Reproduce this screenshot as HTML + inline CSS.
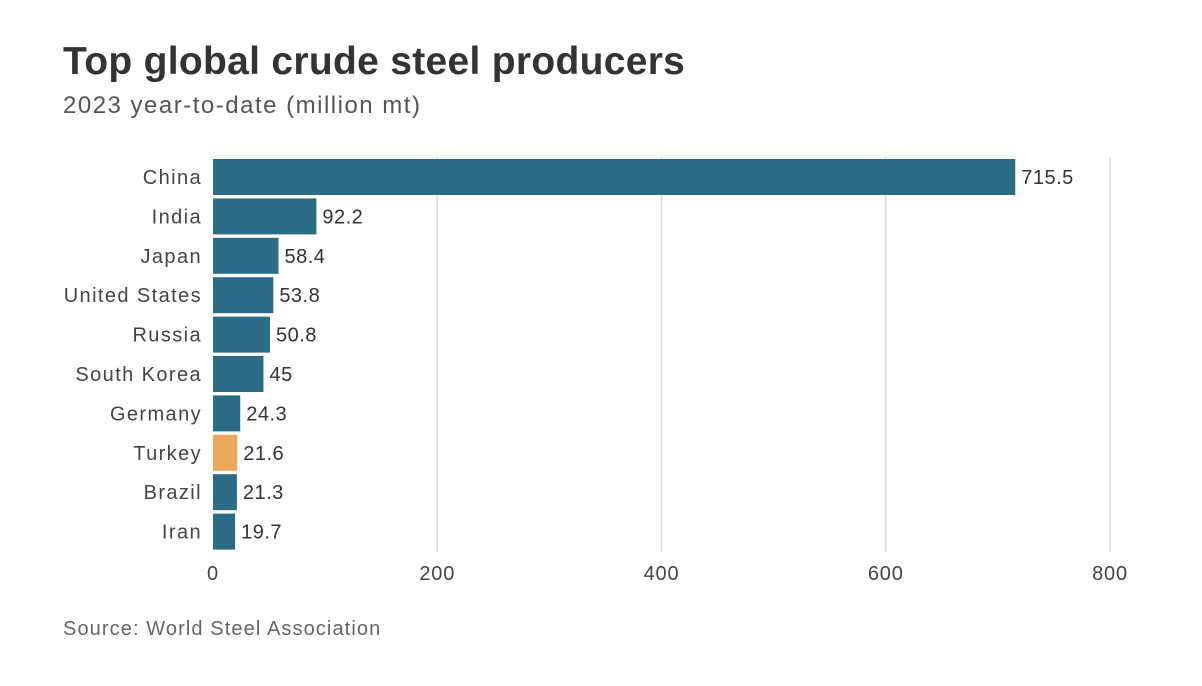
<!DOCTYPE html>
<html><head><meta charset="utf-8">
<style>
body{margin:0;background:#fff;width:1202px;height:686px;overflow:hidden;font-family:"Liberation Sans",sans-serif;}
svg{display:block}
</style></head>
<body>
<svg id="chart" width="1202" height="686" xmlns="http://www.w3.org/2000/svg">
<text x="63" y="74" font-size="39" font-weight="bold" letter-spacing="0.3" fill="#333">Top global crude steel producers</text>
<text x="63" y="113" font-size="24" letter-spacing="1.5" fill="#555">2023 year-to-date (million mt)</text>
<g id="grid"></g>
<g id="bars"></g>
<g id="xticks"></g>
<text x="63" y="635" font-size="20" letter-spacing="1.1" fill="#666">Source: World Steel Association</text>
</svg>
<script>
const categories=["China","India","Japan","United States","Russia","South Korea","Germany","Turkey","Brazil","Iran"];
const values=[715.5,92.2,58.4,53.8,50.8,45,24.3,21.6,21.3,19.7];
const valueLabels=["715.5","92.2","58.4","53.8","50.8","45","24.3","21.6","21.3","19.7"];
const highlighted=["Turkey"];
const ticks=[0,200,400,600,800];

const NS="http://www.w3.org/2000/svg";
const x0=213,x1=1110,xmax=800;
const xs=v=>x0+(v/xmax)*(x1-x0);
const top0=159,pitch=39.4,bh=36;
const ys=i=>top0+i*pitch;
function mk(tag,attrs){const e=document.createElementNS(NS,tag);for(const k in attrs)e.setAttribute(k,attrs[k]);return e;}
const grid=document.getElementById('grid'),bars=document.getElementById('bars'),xt=document.getElementById('xticks');
ticks.forEach(t=>{
  if(t>0){const l=mk('line',{x1:xs(t),x2:xs(t),y1:157,y2:552,stroke:'#ddd','stroke-width':1.5});
  
  
  grid.appendChild(l);}
  const tx=mk('text',{x:xs(t),y:580,'font-size':20,'letter-spacing':0.8,fill:'#444','text-anchor':'middle'});
  tx.textContent=t;
  
  
  xt.appendChild(tx);
});
categories.forEach((c,i)=>{
  const y=ys(i);
  const r=mk('rect',{x:x0,y:y,width:xs(values[i])-x0,height:bh,fill:highlighted.includes(c)?'#e8a95a':'#2c6b85'});
  
  
  bars.appendChild(r);
  const lb=mk('text',{x:202,y:y+bh/2+7,'font-size':20,'letter-spacing':1.4,fill:'#444','text-anchor':'end'});
  lb.textContent=c;
  
  
  bars.appendChild(lb);
  const vl=mk('text',{x:xs(values[i])+6,y:y+bh/2+7,'font-size':20,'letter-spacing':0.5,fill:'#333'});
  vl.textContent=valueLabels[i];
  
  
  bars.appendChild(vl);
});
</script>
</body></html>
